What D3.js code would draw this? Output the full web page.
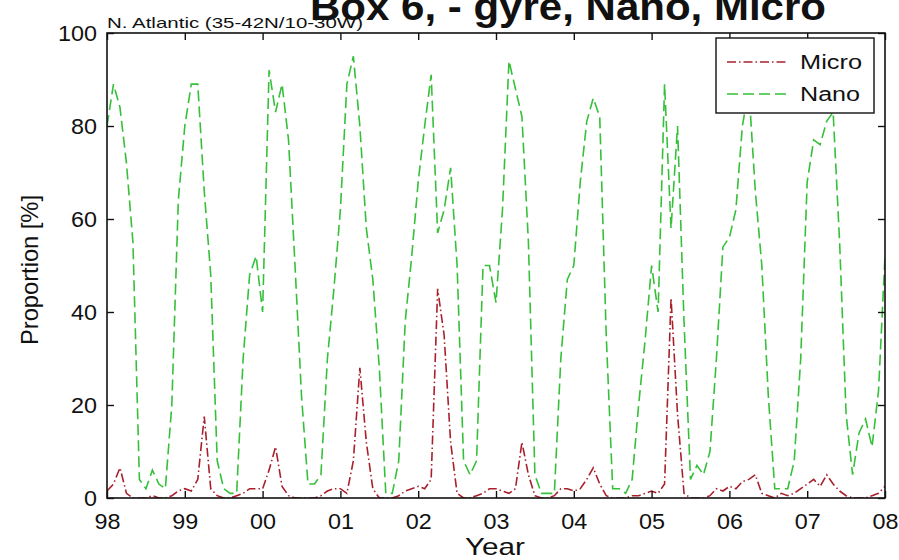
<!DOCTYPE html>
<html>
<head>
<meta charset="utf-8">
<script src="https://cdn.jsdelivr.net/npm/d3@7"></script>
<style>
  html, body { margin: 0; padding: 0; background: #fff; }
  svg { display: block; }
  text { font-family: "Liberation Sans", Arial, Helvetica, sans-serif; fill: #111; }
</style>
</head>
<body>
<svg id="chart" width="899" height="560"></svg>
<script>
// Monthly proportions (%) from Jan 1998 to Jan 2008
const yearTicks = [1998, 1999, 2000, 2001, 2002, 2003, 2004, 2005, 2006, 2007, 2008];
const yearLabels = ["98", "99", "00", "01", "02", "03", "04", "05", "06", "07", "08"];
const yTicks = [0, 20, 40, 60, 80, 100];

const micro = [
  1.5, 3, 6.5, 1, 0, 0, 0, 0.5, 0, 0, 0.5, 1.5,          // 1998
  2, 1.5, 4, 17.5, 2, 0.5, 0, 0, 0.5, 1, 2, 2,           // 1999
  2, 6, 11, 2.5, 0.5, 0, 0, 0, 0, 0.5, 1.5, 2,           // 2000
  2, 1, 8, 28, 12, 2, 0, 0, 0, 0.5, 1.5, 2,              // 2001
  2.5, 2, 4, 45, 35, 12, 1, 0, 0, 0.5, 1, 2,             // 2002
  2, 1.5, 1, 2, 12, 5, 0.5, 0, 0, 0.5, 2, 2,             // 2003
  1.5, 2, 4, 6.5, 3, 0.5, 0, 0, 0, 0.5, 0.5, 1,          // 2004
  1.5, 1, 3, 43, 18, 1, 0, 0, 0, 0.5, 2, 1.5,            // 2005
  2.5, 2, 3.5, 4, 5, 1, 0.5, 0, 1, 0.5, 1, 2,            // 2006
  3, 4, 2.5, 5, 3, 1.5, 0.5, 0, 0, 0, 0.5, 1,            // 2007
  2.5                                                    // Jan 2008
];

const nano = [
  80, 89, 84, 72, 55, 4, 2, 6, 3, 2, 20, 64,             // 1998
  80, 89, 89, 66, 48, 8, 2, 1, 1, 30, 48, 52,            // 1999
  40, 92, 83, 89, 77, 50, 22, 3, 3, 5, 30, 45,           // 2000
  62, 89, 95, 80, 58, 47, 28, 1, 1, 8, 38, 52,           // 2001
  68, 80, 91, 57, 62, 71, 50, 8, 5, 8, 50, 50,           // 2002
  42, 62, 94, 88, 82, 55, 5, 1, 1, 1, 30, 47,            // 2003
  50, 68, 81, 86, 82, 35, 2, 2, 1, 4, 20, 34,            // 2004
  50, 40, 89, 58, 80, 38, 4, 7, 5, 10, 30, 54,           // 2005
  56, 62, 80, 88, 66, 50, 22, 2, 2, 2, 8, 30,            // 2006
  68, 77, 76, 81, 83, 55, 18, 5, 14, 17, 11, 23,         // 2007
  52                                                     // Jan 2008
];

const svg = d3.select("#chart");
const plotL = 107, plotR = 885, plotT = 33, plotB = 498;

const x = d3.scaleLinear().domain([1998, 2008]).range([plotL, plotR]);
const y = d3.scaleLinear().domain([0, 100]).range([plotB, plotT]);

const monthTime = i => 1998 + i / 12;

// Title (runs off the top edge of the figure) and region subtitle
svg.append("text")
  .attr("x", 568).attr("y", 20)
  .attr("text-anchor", "middle")
  .attr("font-size", 38).attr("font-weight", "bold")
  .attr("textLength", 516).attr("lengthAdjust", "spacingAndGlyphs")
  .text("Box 6, - gyre, Nano, Micro");

svg.append("text")
  .attr("x", 107).attr("y", 28)
  .attr("font-size", 15)
  .attr("textLength", 256).attr("lengthAdjust", "spacingAndGlyphs")
  .text("N. Atlantic (35-42N/10-30W)");

// Series
svg.append("clipPath").attr("id", "plotclip")
  .append("rect").attr("x", plotL).attr("y", plotT - 2)
  .attr("width", plotR - plotL).attr("height", plotB - plotT + 2);

const plot = svg.append("g").attr("clip-path", "url(#plotclip)");
const line = d3.line().x((d, i) => x(monthTime(i))).y(d => y(d));

plot.append("path")
  .datum(nano)
  .attr("fill", "none")
  .attr("stroke", "#36c03a")
  .attr("stroke-width", 1.6)
  .attr("stroke-dasharray", "11,5")
  .attr("d", line);

plot.append("path")
  .datum(micro)
  .attr("fill", "none")
  .attr("stroke", "#a8202c")
  .attr("stroke-width", 1.6)
  .attr("stroke-dasharray", "9,3,1.5,3")
  .attr("d", line);

// Axes: ticks point inward on all four sides, box frame
const tickLen = 7;
const xAxisB = d3.axisBottom(x).tickValues(yearTicks).tickSize(-tickLen).tickPadding(16)
  .tickFormat((d, i) => yearLabels[i]);
const xAxisT = d3.axisTop(x).tickValues(yearTicks).tickSize(-tickLen).tickFormat("");
const yAxisL = d3.axisLeft(y).tickValues(yTicks).tickSize(-tickLen).tickPadding(16);
const yAxisR = d3.axisRight(y).tickValues(yTicks).tickSize(-tickLen).tickFormat("");

function style(g) {
  g.select(".domain").remove();
  g.selectAll(".tick line").attr("stroke", "#111").attr("stroke-width", 1.4);
  g.selectAll("text").attr("font-size", 22).attr("fill", "#111")
    .attr("font-family", "\"Liberation Sans\", Arial, sans-serif");
}

const gxB = svg.append("g").attr("transform", `translate(0,${plotB})`).call(xAxisB).call(style);
gxB.selectAll("text").attr("y", 15).attr("dy", "0.71em")
  .attr("textLength", 26).attr("lengthAdjust", "spacingAndGlyphs");
svg.append("g").attr("transform", `translate(0,${plotT})`).call(xAxisT).call(style);
const gyL = svg.append("g").attr("transform", `translate(${plotL},0)`).call(yAxisL).call(style);
gyL.selectAll("text").attr("x", -10)
  .attr("textLength", d => String(d).length * 13).attr("lengthAdjust", "spacingAndGlyphs");
svg.append("g").attr("transform", `translate(${plotR},0)`).call(yAxisR).call(style);

svg.append("rect")
  .attr("x", plotL).attr("y", plotT)
  .attr("width", plotR - plotL).attr("height", plotB - plotT)
  .attr("fill", "none").attr("stroke", "#111").attr("stroke-width", 1.6);

// Axis titles
svg.append("text")
  .attr("x", (plotL + plotR) / 2 - 1).attr("y", 555)
  .attr("text-anchor", "middle").attr("font-size", 24)
  .attr("textLength", 60).attr("lengthAdjust", "spacingAndGlyphs")
  .text("Year");

svg.append("text")
  .attr("transform", "translate(38,270) rotate(-90)")
  .attr("text-anchor", "middle").attr("font-size", 24)
  .attr("textLength", 150).attr("lengthAdjust", "spacingAndGlyphs")
  .text("Proportion [%]");

// Legend
const legend = svg.append("g");
legend.append("rect")
  .attr("x", 716).attr("y", 38).attr("width", 158).attr("height", 75)
  .attr("fill", "#fff").attr("stroke", "#111").attr("stroke-width", 1.4);

const items = [
  { name: "Micro", color: "#a8202c", dash: "9,3,1.5,3", ly: 62 },
  { name: "Nano", color: "#36c03a", dash: "11,5", ly: 94 }
];
items.forEach(it => {
  legend.append("line")
    .attr("x1", 727).attr("x2", 787).attr("y1", it.ly).attr("y2", it.ly)
    .attr("stroke", it.color).attr("stroke-width", 1.6).attr("stroke-dasharray", it.dash);
  legend.append("text")
    .attr("x", 800).attr("y", it.ly + 7)
    .attr("font-size", 20)
    .attr("textLength", it.name === "Micro" ? 62 : 60).attr("lengthAdjust", "spacingAndGlyphs")
    .text(it.name);
});
</script>
</body>
</html>
